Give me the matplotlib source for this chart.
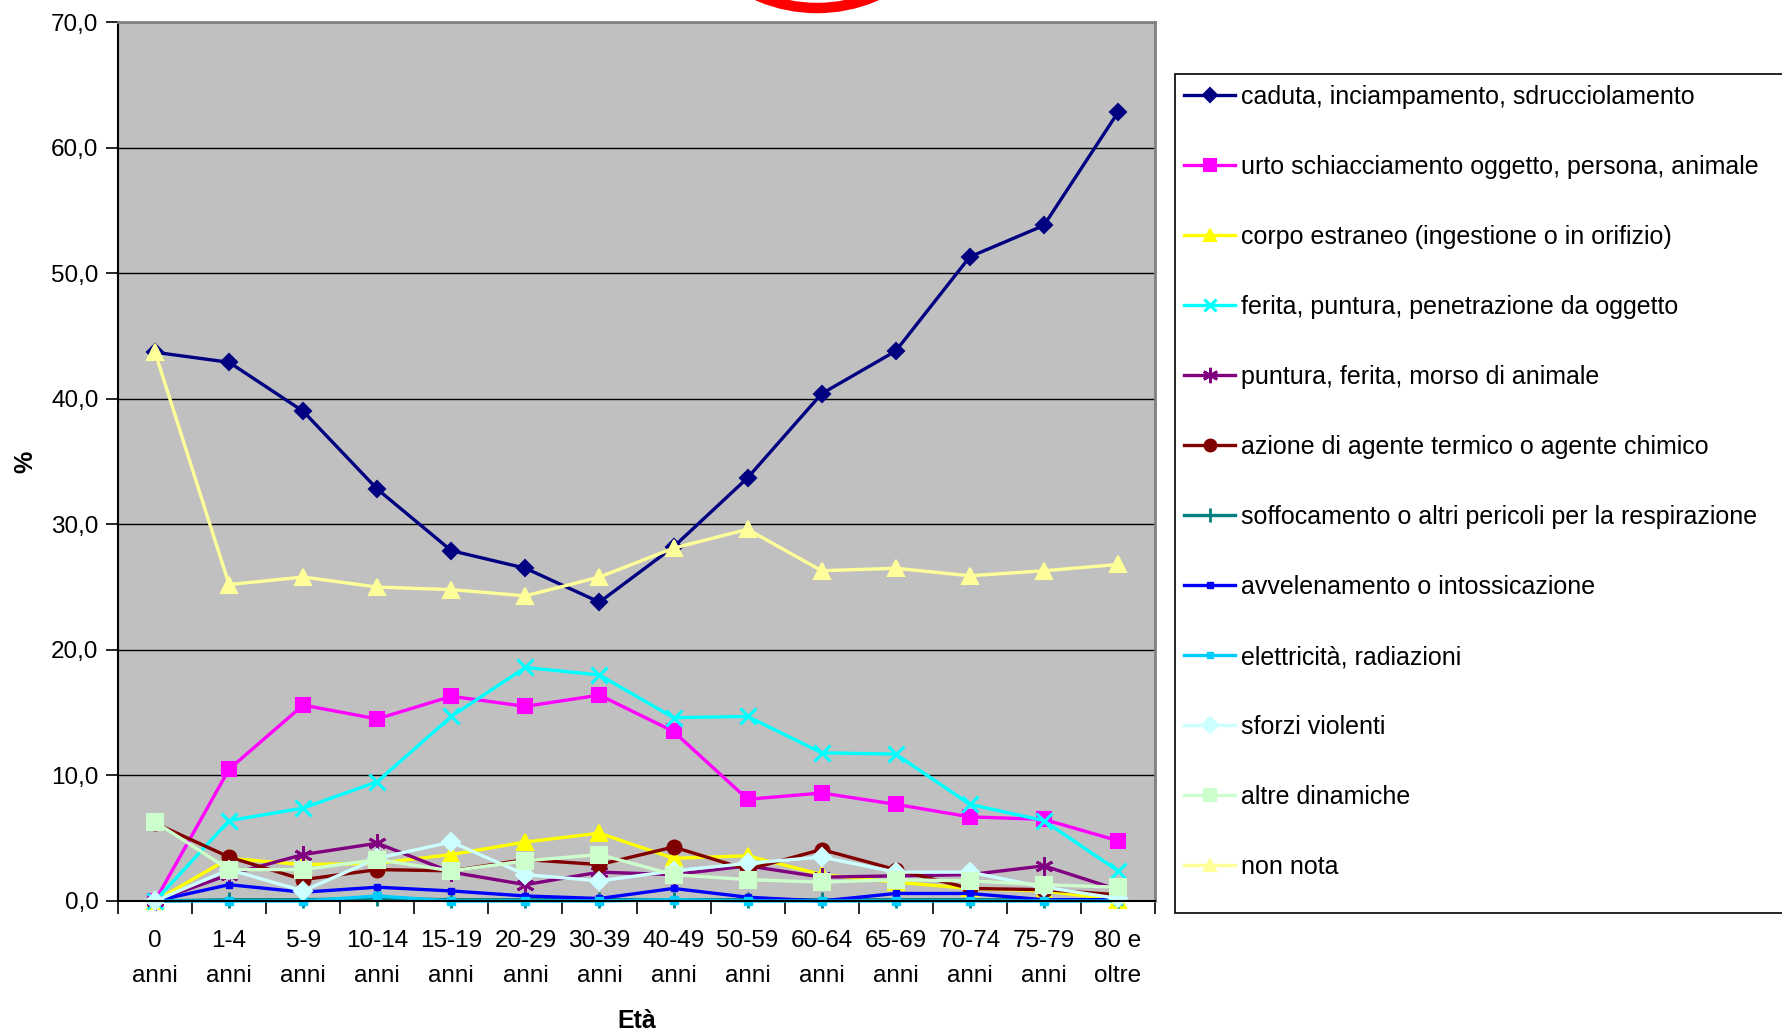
import numpy as np
import matplotlib.pyplot as plt
from matplotlib.patches import Circle, Rectangle

plt.rcParams['font.family'] = ['Liberation Sans', 'DejaVu Sans']

eta = ["0\nanni", "1-4\nanni", "5-9\nanni", "10-14\nanni", "15-19\nanni",
       "20-29\nanni", "30-39\nanni", "40-49\nanni", "50-59\nanni",
       "60-64\nanni", "65-69\nanni", "70-74\nanni", "75-79\nanni", "80 e\noltre"]

caduta = [43.7, 42.9, 39.0, 32.8, 27.9, 26.5, 23.8, 28.2, 33.7, 40.4, 43.8, 51.3, 53.8, 62.8]
urto = [0.0, 10.5, 15.6, 14.5, 16.3, 15.5, 16.4, 13.5, 8.1, 8.6, 7.7, 6.7, 6.5, 4.8]
corpo_estraneo = [0.0, 3.4, 2.9, 3.0, 3.7, 4.7, 5.4, 3.4, 3.6, 2.1, 1.5, 1.0, 0.8, 0.1]
ferita_oggetto = [0.0, 6.4, 7.4, 9.5, 14.7, 18.6, 18.0, 14.6, 14.7, 11.8, 11.7, 7.7, 6.4, 2.4]
morso_animale = [0.0, 2.1, 3.7, 4.6, 2.3, 1.3, 2.3, 2.1, 2.8, 1.9, 2.0, 2.1, 2.8, 0.9]
termico_chimico = [6.2, 3.5, 1.7, 2.5, 2.4, 3.3, 2.9, 4.3, 2.5, 4.1, 2.5, 1.0, 0.9, 0.5]
soffocamento = [0.0, 0.1, 0.1, 0.2, 0.1, 0.1, 0.1, 0.1, 0.1, 0.1, 0.1, 0.1, 0.1, 0.1]
avvelenamento = [0.0, 1.3, 0.7, 1.1, 0.8, 0.4, 0.2, 1.0, 0.3, 0.0, 0.6, 0.6, 0.1, 0.1]
elettricita = [0.0, 0.0, 0.0, 0.4, 0.0, 0.0, 0.0, 0.1, 0.0, 0.0, 0.0, 0.0, 0.0, 0.0]
sforzi = [0.0, 2.5, 0.8, 3.4, 4.7, 2.1, 1.6, 2.4, 3.0, 3.5, 2.3, 2.3, 1.1, 0.2]
altre = [6.3, 2.5, 2.5, 3.3, 2.4, 3.2, 3.7, 2.1, 1.7, 1.5, 1.7, 1.6, 1.3, 1.1]
non_nota = [43.7, 25.2, 25.8, 25.0, 24.8, 24.3, 25.8, 28.1, 29.6, 26.3, 26.5, 25.9, 26.3, 26.8]

serie = [
    ("caduta, inciampamento, sdrucciolamento", caduta, "#000080", "D", 8, 1.5),
    ("urto schiacciamento oggetto, persona, animale", urto, "#FF00FF", "s", 10.5, 1.5),
    ("corpo estraneo (ingestione o in orifizio)", corpo_estraneo, "#FFFF00", "^", 11, 1.5),
    ("ferita, puntura, penetrazione da oggetto", ferita_oggetto, "#00FFFF", "x", 11, 2.2),
    ("puntura, ferita, morso di animale", morso_animale, "#800080", (6, 2, 0), 13, 2.0),
    ("azione di agente termico o agente chimico", termico_chimico, "#800000", "o", 10, 1.5),
    ("soffocamento o altri pericoli per la respirazione", soffocamento, "#008080", "+", 12, 2.0),
    ("avvelenamento o intossicazione", avvelenamento, "#0000FF", "s", 4.5, 1.0),
    ("elettricità, radiazioni", elettricita, "#00CCFF", "s", 5.5, 1.0),
    ("sforzi violenti", sforzi, "#CCFFFF", "D", 9, 1.5),
    ("altre dinamiche", altre, "#CCFFCC", "s", 11, 1.5),
    ("non nota", non_nota, "#FFFF99", "^", 11, 1.5),
]

W, H = 1782, 1031
fig = plt.figure(figsize=(W / 100, H / 100), dpi=100)
ax = fig.add_axes([118 / W, 1 - 901 / H, (1155 - 118) / W, (901 - 22) / H])
ax.set_facecolor("#C0C0C0")

x = np.arange(len(eta))
for nome, valori, colore, marker, ms, mew in serie:
    ax.plot(x, valori, color=colore, lw=2.4, marker=marker, markersize=ms,
            markeredgewidth=mew, markeredgecolor=colore, markerfacecolor=colore,
            label=nome, clip_on=False)

ax.set_xlim(-0.5, len(eta) - 0.5)
ax.set_ylim(0, 70)
ax.set_yticks(np.arange(0, 71, 10))
ax.set_yticklabels([f"{v:.1f}".replace(".", ",") for v in np.arange(0, 71, 10)])
ax.set_xticks(x)
ax.set_xticklabels(eta, linespacing=1.75)
ax.set_xticks(np.arange(-0.5, len(eta)), minor=True)
ax.tick_params(axis="x", which="major", length=0, pad=21, labelsize=17.5)
ax.tick_params(axis="x", which="minor", length=9, width=1.2, direction="out")
ax.tick_params(axis="y", length=9, width=1.2, pad=5, labelsize=17.5)
ax.yaxis.grid(True, color="black", lw=1)
ax.set_axisbelow(True)

for lato in ["top", "right"]:
    ax.spines[lato].set_color("#808080")
    ax.spines[lato].set_linewidth(2)
for lato in ["left", "bottom"]:
    ax.spines[lato].set_color("black")
    ax.spines[lato].set_linewidth(1.5)

ax.set_xlabel("Età", fontsize=18, fontweight="bold", labelpad=16)
ax.set_ylabel("%", fontsize=18, fontweight="bold", labelpad=10)

# cornice della legenda, che prosegue oltre il bordo destro
fig.add_artist(Rectangle((1175 / W, 1 - 913 / H), 700 / W, (913 - 74) / H,
                         transform=fig.transFigure, facecolor="white",
                         edgecolor="black", lw=1.2, clip_on=False, zorder=0))

leg = ax.legend(loc="upper left", bbox_to_anchor=(1184 / W, 1 - 85 / H),
                bbox_transform=fig.transFigure, fontsize=18, frameon=False,
                labelspacing=1.84, handlelength=2.04, handletextpad=0.24,
                borderpad=0, borderaxespad=0, markerscale=0.85)

# anello rosso parzialmente visibile in alto
anello = Circle((8.17, 11.72), 1.49, transform=fig.dpi_scale_trans,
                fill=False, edgecolor="#FF0000", lw=7.5, clip_on=False)
fig.add_artist(anello)

fig.savefig("out.png", dpi=100)
